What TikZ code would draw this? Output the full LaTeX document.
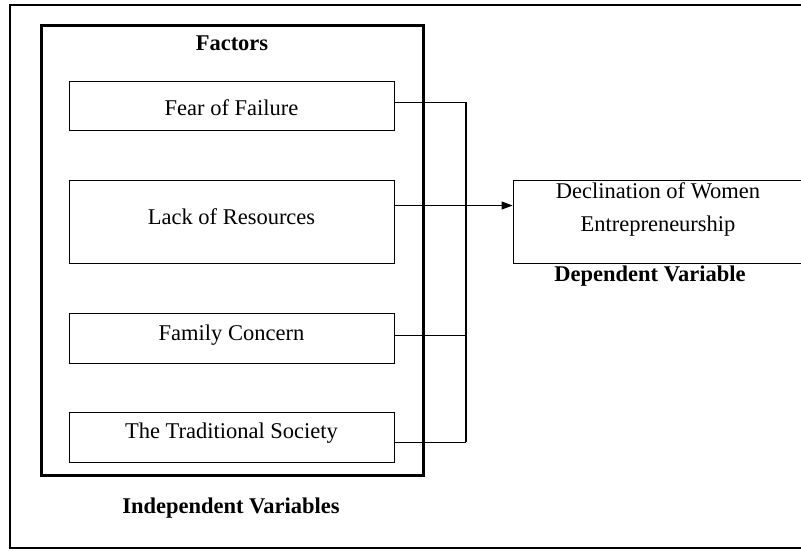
\documentclass[tikz,border=0pt]{standalone}
\usepackage{fontspec}
\setmainfont{Liberation Serif}
\usetikzlibrary{arrows.meta}
\tikzset{
  txt/.style={font=\fontsize{22.5}{27}\selectfont, inner sep=0pt},
  btxt/.style={font=\fontsize{22.5}{27}\selectfont\bfseries, inner sep=0pt},
  factorbox/.style={draw, line width=0.8pt, txt, minimum width=325pt, text height=#1, text depth=0pt},
  conn/.style={line width=0.9pt},
}
\begin{document}
\begin{tikzpicture}[x=1pt,y=-1pt]
\clip (0,0) rectangle (801,550);
\fill[white] (0,0) rectangle (801,550);
% outer frame (right side lies beyond the picture)
\draw[line width=2pt] (10,5) rectangle (820,548);
% group of factors
\node[draw, line width=3pt, minimum width=381.5pt, minimum height=450pt, inner sep=0pt] (group) at (232.25,250) {};
\node[btxt, anchor=base] (factors) at (232,50) {Factors};
\node[factorbox=19pt, minimum height=49pt] (fear) at (231.5,105.5) {Fear of Failure};
\node[factorbox=5pt, minimum height=83pt] (lack) at (231.5,221.5) {Lack of Resources};
\node[factorbox=4pt, minimum height=50pt] (family) at (231.5,338) {Family Concern};
\node[factorbox=2pt, minimum height=50pt] (trad) at (231.5,437) {The Traditional Society};
\node[btxt, anchor=base] (indep) at (231,513) {Independent Variables};
% dependent variable
\node[draw, line width=0.8pt, minimum width=290pt, minimum height=83pt, inner sep=0pt] (dep) at (658,221.5) {};
\node[txt, anchor=base] (dep1) at (658,198) {Declination of Women};
\node[txt, anchor=base] (dep2) at (658,231) {Entrepreneurship};
\node[btxt, anchor=base] (deplabel) at (650,281.5) {Dependent Variable};
% connectors
\coordinate (jf) at (466,102);
\coordinate (jt) at (466,442);
\draw[conn] ([yshift=3.5pt]fear.east) -- (jf);
\draw[conn] ([yshift=3pt]family.east) -- (466,335);
\draw[conn] ([yshift=-5pt]trad.east) -- (jt);
\draw[line width=1.4pt] (jf) -- (jt);
\draw[conn, -{Triangle[length=11pt, width=8pt]}] ([yshift=16pt]lack.east) -- ([yshift=16pt]dep.west);
\end{tikzpicture}
\end{document}
